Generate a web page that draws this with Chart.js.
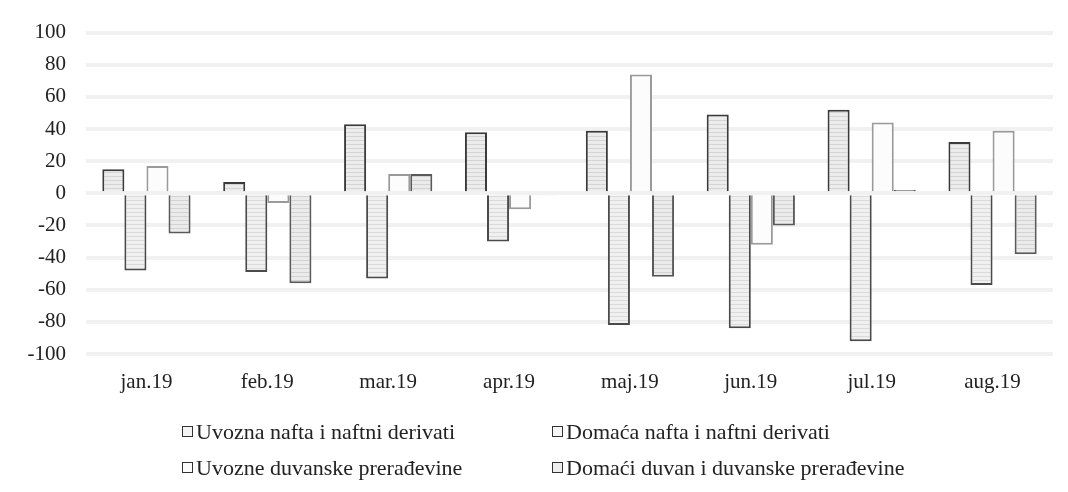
<!DOCTYPE html>
<html>
<head>
<meta charset="utf-8">
<script src="https://cdn.jsdelivr.net/npm/chart.js@4/dist/chart.umd.min.js"></script>
<style>
  body { margin: 0; background: #fff; }
  #wrap { position: relative; width: 1068px; height: 492px; }
  #legend { position: absolute; left: 0; top: 419px; width: 1068px; font-family: "Liberation Serif", serif; font-size: 22px; line-height: 26px; color: #222; }
  .item { position: absolute; white-space: nowrap; }
  .box { display: inline-block; width: 9px; height: 9px; border: 1px solid #333; margin-right: 3px; vertical-align: 2px; }
</style>
</head>
<body>
<div id="wrap">
  <canvas id="myChart" width="1068" height="492"></canvas>
  <div id="legend"></div>
</div>
<script>
// months on the x axis
const months = ['jan.19', 'feb.19', 'mar.19', 'apr.19', 'maj.19', 'jun.19', 'jul.19', 'aug.19'];

// series
const seriesNames = [
    'Uvozna nafta i naftni derivati',
    'Domaća nafta i naftni derivati',
    'Uvozne duvanske prerađevine',
    'Domaći duvan i duvanske prerađevine'
];
const uvoznaNafta   = [15, 7, 43, 38, 39, 49, 52, 32];
const domacaNafta   = [-48, -49, -53, -30, -82, -84, -92, -57];
const uvozniDuvan   = [17, -6, 12, -10, 74, -32, 44, 39];
const domaciDuvan   = [-25, -56, 12, -1, -52, -20, 2, -38];

const yTicks = [100, 80, 60, 40, 20, 0, -20, -40, -60, -80, -100];

// striped fill like the scanned excel bars
function stripes(bg, line) {
    const c = document.createElement('canvas');
    c.width = 8; c.height = 4;
    const g = c.getContext('2d');
    g.fillStyle = bg;
    g.fillRect(0, 0, 8, 4);
    g.fillStyle = line;
    g.fillRect(0, 0, 8, 1);
    return g.createPattern(c, 'repeat');
}

const ctx = document.getElementById('myChart').getContext('2d');

const styles = [
    { fill: stripes('#ececec', '#d4d4d4'), border: '#3a3a3a', legendBox: '#f4f4f4' },
    { fill: stripes('#f0f0f0', '#dadada'), border: '#4a4a4a', legendBox: '#f6f6f6' },
    { fill: '#fcfcfc', border: '#9a9a9a', legendBox: '#fdfdfd' },
    { fill: stripes('#ebebeb', '#d2d2d2'), border: '#5a5a5a', legendBox: '#eeeeee' }
];
const dataSets = [uvoznaNafta, domacaNafta, uvozniDuvan, domaciDuvan];

window.myChart = new Chart(ctx, {
    type: 'bar',
    data: {
        labels: months,
        datasets: dataSets.map((d, i) => ({
            label: seriesNames[i],
            data: d,
            backgroundColor: styles[i].fill,
            borderColor: styles[i].border,
            borderWidth: 2,
            borderSkipped: 'start',
            barPercentage: 1.0,
            categoryPercentage: 0.73
        }))
    },
    options: {
        responsive: false,
        animation: false,
        layout: {
            padding: { left: 0, right: 15, top: 30, bottom: 84 }
        },
        plugins: {
            legend: { display: false },
            tooltip: { enabled: false }
        },
        scales: {
            x: {
                afterFit: axis => { axis.height = 54; },
                grid: { display: false },
                border: { display: false },
                ticks: {
                    color: '#222',
                    font: { family: 'Liberation Serif', size: 21 },
                    padding: 8
                }
            },
            y: {
                min: -100,
                max: 100,
                afterFit: axis => { axis.width = 86; },
                afterBuildTicks: axis => { axis.ticks = yTicks.map(v => ({ value: v })); },
                grid: { color: '#f1f1f1', lineWidth: 4, drawTicks: false },
                border: { display: false },
                ticks: {
                    color: '#222',
                    font: { family: 'Liberation Serif', size: 21 },
                    padding: 20
                }
            }
        }
    }
});

// legend in two columns, as in the source
const legend = document.getElementById('legend');
const legendPos = [[182, 0], [552, 0], [182, 36], [552, 36]];
seriesNames.forEach((name, i) => {
    const el = document.createElement('div');
    el.className = 'item';
    el.style.left = legendPos[i][0] + 'px';
    el.style.top = legendPos[i][1] + 'px';
    el.innerHTML = '<span class="box" style="background:' + styles[i].legendBox + '"></span>' + name;
    legend.appendChild(el);
});
</script>
</body>
</html>
